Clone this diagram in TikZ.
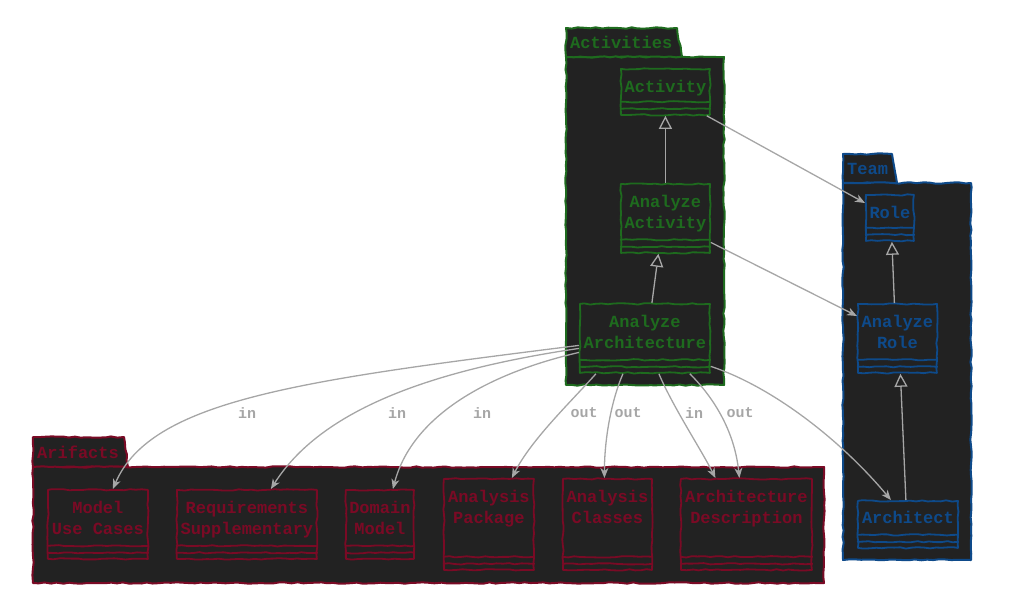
\documentclass[tikz,border=0pt]{standalone}
\usepackage{fontspec}
\newfontfamily\umlfont{Liberation Mono}
\usetikzlibrary{arrows.meta,decorations.pathmorphing,positioning}

\definecolor{pkgbg}{HTML}{222222}
\definecolor{actgreen}{HTML}{1E6B1E}
\definecolor{teamblue}{HTML}{0E4A8A}
\definecolor{artred}{HTML}{7A0A25}
\definecolor{edgegray}{HTML}{A6A6A6}

\tikzset{
  sketchy/.style={line join=round,decorate,decoration={random steps,segment length=6pt,amplitude=0.7pt}},
  pkg/.style={draw=#1,fill=pkgbg,line width=2pt,sketchy},
  pkgname/.style={text=#1,anchor=west,inner sep=0pt},
  cls/.style={draw=#1,line width=1.8pt,sketchy,inner sep=0pt,anchor=north west},
  clsname/.style={text=#1,align=center,inner sep=0pt,anchor=north},
  dep/.style={edgegray,line width=1.3pt,-{Stealth[length=10pt,width=8pt,inset=3pt]}},
  gen/.style={edgegray,line width=1.3pt,-{Triangle[open,length=13pt,width=13pt]}},
  flow/.style={text=edgegray,font=\umlfont\bfseries\fontsize{15}{18}\selectfont,inner sep=1pt},
}

\begin{document}
\begin{tikzpicture}[x=1pt,y=1pt,
        font=\umlfont\bfseries\fontsize{17}{21}\selectfont]
    \useasboundingbox (0,0) rectangle (1012,-608);

    % packages
    \draw[pkg=actgreen] (566,-57) -- (566,-28) -- (677,-28) -- (682,-57) -- cycle;
    \draw[pkg=actgreen] (566,-57) rectangle (724,-385);
    \node[pkgname=actgreen] (actpkg) at (570,-42) {Activities};

    \draw[pkg=teamblue] (843,-183) -- (843,-154) -- (892,-154) -- (897,-183) -- cycle;
    \draw[pkg=teamblue] (843,-183) rectangle (971,-560);
    \node[pkgname=teamblue] (teampkg) at (847,-169) {Team};

    \draw[pkg=artred] (33,-467) -- (33,-437) -- (124,-437) -- (128,-467) -- cycle;
    \draw[pkg=artred] (33,-467) rectangle (824,-583);
    \node[pkgname=artred] (artpkg) at (37,-452) {Arifacts};

    % classes
    \node[cls=actgreen,minimum width=89pt,minimum height=46pt] (act) at (620,-68) {};
    \node[clsname=actgreen,below=12pt of act.north] (act-name) {Activity};
    \node[cls=actgreen,minimum width=89pt,minimum height=69pt] (aact) at (620,-183) {};
    \node[clsname=actgreen,below=12pt of aact.north] (aact-name) {Analyze\\Activity};
    \node[cls=actgreen,minimum width=130pt,minimum height=69pt] (aarch) at (579,-303) {};
    \node[clsname=actgreen,below=12pt of aarch.north] (aarch-name) {Analyze\\Architecture};

    \node[cls=teamblue,minimum width=48pt,minimum height=46pt] (role) at (865,-194) {};
    \node[clsname=teamblue,below=12pt of role.north] (role-name) {Role};
    \node[cls=teamblue,minimum width=79pt,minimum height=69pt] (arole) at (857,-303) {};
    \node[clsname=teamblue,below=12pt of arole.north] (arole-name) {Analyze\\Role};
    \node[cls=teamblue,minimum width=100pt,minimum height=47pt] (archt) at (857,-500) {};
    \node[clsname=teamblue,below=11pt of archt.north] (archt-name) {Architect};

    \node[cls=artred,minimum width=100pt,minimum height=69pt] (muc) at (47,-489) {};
    \node[clsname=artred,below=12pt of muc.north] (muc-name) {Model\\Use Cases};
    \node[cls=artred,minimum width=140pt,minimum height=69pt] (req) at (176,-489) {};
    \node[clsname=artred,below=12pt of req.north] (req-name) {Requirements\\Supplementary};
    \node[cls=artred,minimum width=68pt,minimum height=69pt] (dom) at (345,-489) {};
    \node[clsname=artred,below=12pt of dom.north] (dom-name) {Domain\\Model};
    \node[cls=artred,minimum width=90pt,minimum height=91pt] (apkg) at (443,-478) {};
    \node[clsname=artred,below=12pt of apkg.north] (apkg-name) {Analysis\\Package};
    \node[cls=artred,minimum width=89pt,minimum height=91pt] (acls) at (562,-478) {};
    \node[clsname=artred,below=12pt of acls.north] (acls-name) {Analysis\\Classes};
    \node[cls=artred,minimum width=131pt,minimum height=91pt] (adesc) at (680,-478) {};
    \node[clsname=artred,below=12pt of adesc.north] (adesc-name) {Architecture\\Description};

    % empty attribute and method compartments
    \foreach \cl/\clr in {act/actgreen,aact/actgreen,aarch/actgreen,
                          role/teamblue,arole/teamblue,archt/teamblue,
                          muc/artred,req/artred,dom/artred,apkg/artred,acls/artred,adesc/artred} {
        \draw[draw=\clr,line width=1.8pt,sketchy] ([yshift=14pt]\cl.south west) -- ([yshift=14pt]\cl.south east);
        \draw[draw=\clr,line width=1.8pt,sketchy] ([yshift=7pt]\cl.south west) -- ([yshift=7pt]\cl.south east);
    }

    % generalizations
    \draw[gen] (aact.north) -- (act.south);
    \draw[gen] ([xshift=7pt]aarch.north) -- ([xshift=-7pt]aact.south);
    \draw[gen] ([xshift=-3pt]arole.north) -- ([xshift=2pt]role.south);
    \draw[gen] ([xshift=-2pt]archt.north) -- ([xshift=3pt]arole.south);

    % associations
    \draw[dep] ([xshift=-4pt]act.south east) -- ([yshift=-9pt]role.north west);
    \draw[dep] ([yshift=-24pt]aact.east) -- ([yshift=-13pt]arole.north west);
    \draw[dep] ([yshift=-28pt]aarch.east) .. controls +(61,-20) and +(-50,60) .. ([xshift=-17pt]archt.north);

    % inputs and outputs
    \draw[dep] ([yshift=-7pt]aarch.west) .. controls +(-279,-35) and +(38,89) .. ([xshift=15pt]muc.north);
    \draw[dep] ([yshift=-10pt]aarch.west) .. controls +(-149,-22) and +(50,79) .. ([xshift=24pt]req.north);
    \draw[dep] ([yshift=-14pt]aarch.west) .. controls +(-99,-23) and +(18,69) .. ([xshift=13pt]dom.north);
    \draw[dep] ([xshift=-49pt]aarch.south) .. controls +(-25,-28) and +(19,38) .. ([xshift=23pt]apkg.north);
    \draw[dep] ([xshift=-22pt]aarch.south) .. controls +(-12,-28) and +(0,38) .. ([xshift=-3pt]acls.north);
    \draw[dep] ([xshift=14pt]aarch.south) .. controls +(14,-33) and +(-14,28) .. ([xshift=-31pt]adesc.north);
    \draw[dep] ([xshift=45pt]aarch.south) .. controls +(23,-23) and +(-5,48) .. ([xshift=-7pt]adesc.north);

    \node[flow] (in-muc) at (247,-413) {in};
    \node[flow] (in-req) at (397,-413) {in};
    \node[flow] (in-dom) at (482,-413) {in};
    \node[flow] (out-apkg) at (584,-413) {out};
    \node[flow] (out-acls) at (628,-413) {out};
    \node[flow] (in-adesc) at (694,-413) {in};
    \node[flow] (out-adesc) at (740,-413) {out};
\end{tikzpicture}
\end{document}
